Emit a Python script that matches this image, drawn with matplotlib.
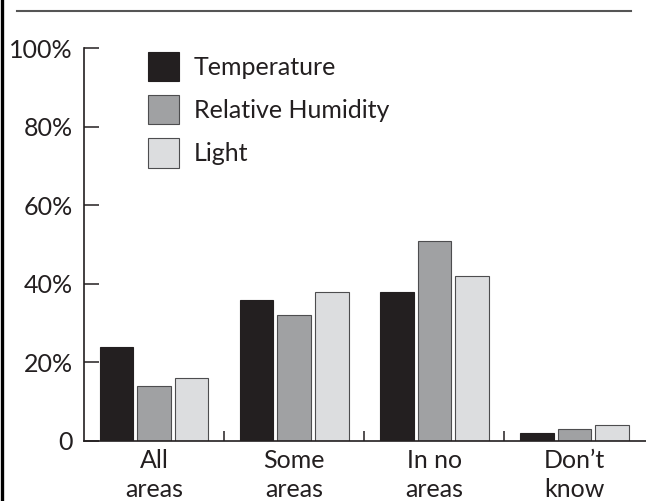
import numpy as np
import matplotlib
matplotlib.use("Agg")
import matplotlib.pyplot as plt
from matplotlib.patches import Patch
from matplotlib.lines import Line2D

plt.rcParams['font.family'] = ['Lato', 'DejaVu Sans']

# data
groups = ["All\nareas", "Some\nareas", "In no\nareas", "Don’t\nknow"]
series = ["Temperature", "Relative Humidity", "Light"]
temperature = [24, 36, 38, 2]
humidity = [14, 32, 51, 3]
light = [16, 38, 42, 4]
yticks = [0, 20, 40, 60, 80, 100]
ylabels = ["0", "20%", "40%", "60%", "80%", "100%"]

dark = "#231f20"
fills = [dark, "#a0a1a3", "#dcdddf"]
edges = [dark, "#4d4d4f", "#4d4d4f"]
fs = 18

fig = plt.figure(figsize=(6.46, 5.01), dpi=100)
ax = fig.add_axes([84 / 646, 60 / 501, 562 / 646, 393 / 501])

x = np.arange(len(groups))
w = 0.24
step = 0.268
vals = [temperature, humidity, light]
for i in range(3):
    ax.bar(x + (i - 1) * step, vals[i], width=w, color=fills[i],
           edgecolor=edges[i], linewidth=0.8, zorder=2)

ax.set_xlim(-0.5, 3.51)
ax.set_ylim(0, 100)

for s in ["top", "right"]:
    ax.spines[s].set_visible(False)
for s in ["left", "bottom"]:
    ax.spines[s].set_color(dark)
    ax.spines[s].set_linewidth(1.2)

ax.set_yticks(yticks)
ax.set_yticklabels(ylabels)
ax.tick_params(axis="y", direction="in", length=11, width=1.1, color=dark,
               pad=8, labelsize=fs, labelcolor=dark)

ax.set_xticks(x)
ax.set_xticklabels(groups, linespacing=1.3)
ax.tick_params(axis="x", which="major", length=0, pad=6, labelsize=fs,
               labelcolor=dark)
ax.set_xticks(x[:-1] + 0.5, minor=True)
ax.tick_params(axis="x", which="minor", direction="in", length=7.5,
               width=1.1, color=dark)

handles = [Patch(facecolor=fills[i], edgecolor=edges[i], linewidth=0.8)
           for i in range(3)]
ax.legend(handles, series, loc="upper left", bbox_to_anchor=(0.114, 0.99),
          frameon=False, fontsize=fs, handlelength=1.24, handleheight=1.44,
          labelspacing=0.54, handletextpad=0.6, borderpad=0,
          borderaxespad=0, labelcolor=dark)

# page frame pieces
fig.add_artist(Line2D([1.5 / 646, 1.5 / 646], [0, 1], color="black", lw=2.4))
fig.add_artist(Line2D([17 / 646, 631 / 646], [490 / 501, 490 / 501],
                      color="#555555", lw=1.5))

fig.savefig("out.png", dpi=100)
